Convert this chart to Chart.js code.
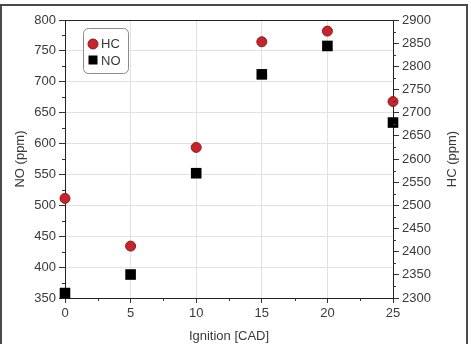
<!DOCTYPE html>
<html>
<head>
<meta charset="utf-8">
<script src="https://cdn.jsdelivr.net/npm/chart.js@4.4.1/dist/chart.umd.min.js"></script>
<style>
html,body{margin:0;padding:0;background:#fff;}
canvas{display:block;}
</style>
</head>
<body>
<canvas id="c" width="471" height="344"></canvas>
<script>
const ignition = [0, 5, 10, 15, 20, 25];
const hcValues = [2515, 2412, 2625, 2853, 2876, 2724];
const noValues = [358, 388, 552, 712, 758, 634];
const xTicks = [0, 5, 10, 15, 20, 25];
const noTicks = [350, 400, 450, 500, 550, 600, 650, 700, 750, 800];
const hcTicks = [2300, 2350, 2400, 2450, 2500, 2550, 2600, 2650, 2700, 2750, 2800, 2850, 2900];

const FONT = 'Liberation Sans, Arial, sans-serif';
const TXT = '#3a3a3a';
const HC_COLOR = '#c1272d';
const HC_BORDER = '#8e1b1e';

const extras = {
  id: 'extras',
  beforeDraw(chart) {
    const ctx = chart.ctx;
    ctx.save();
    ctx.fillStyle = '#fff';
    ctx.fillRect(0, 0, chart.width, chart.height);
    ctx.restore();
  },
  afterDraw(chart) {
    const ctx = chart.ctx;
    const a = chart.chartArea;
    const sx = chart.scales.x, sy = chart.scales.y, sy1 = chart.scales.y1;
    ctx.save();
    ctx.strokeStyle = '#222';
    ctx.lineWidth = 1;
    ctx.beginPath();
    ctx.moveTo(a.left, a.top + 0.5);
    ctx.lineTo(a.right, a.top + 0.5);
    ctx.stroke();
    ctx.strokeStyle = '#333';
    ctx.beginPath();
    for (let i = 0; i < xTicks.length - 1; i++) {
      const v = (xTicks[i] + xTicks[i + 1]) / 2;
      const px = Math.round(sx.getPixelForValue(v)) + 0.5;
      ctx.moveTo(px, a.bottom);
      ctx.lineTo(px, a.bottom + 3);
    }
    for (let i = 0; i < noTicks.length - 1; i++) {
      const v = (noTicks[i] + noTicks[i + 1]) / 2;
      const py = Math.round(sy.getPixelForValue(v)) + 0.5;
      ctx.moveTo(a.left - 3, py);
      ctx.lineTo(a.left, py);
    }
    for (let i = 0; i < hcTicks.length - 1; i++) {
      const v = (hcTicks[i] + hcTicks[i + 1]) / 2;
      const py = Math.round(sy1.getPixelForValue(v)) + 0.5;
      ctx.moveTo(a.right, py);
      ctx.lineTo(a.right + 3, py);
    }
    ctx.stroke();
    ctx.fillStyle = TXT;
    ctx.font = '13px ' + FONT;
    ctx.textAlign = 'center';
    ctx.textBaseline = 'middle';
    ctx.translate(452, (a.top + a.bottom) / 2);
    ctx.rotate(-Math.PI / 2);
    ctx.fillText('HC (ppm)', 0, 0);
    ctx.restore();

    ctx.save();
    const lx = 83, ly = 28, lw = 45, lh = 45, r = 5;
    ctx.beginPath();
    ctx.roundRect(lx + 0.5, ly + 0.5, lw, lh, r);
    ctx.fillStyle = '#fff';
    ctx.fill();
    ctx.strokeStyle = '#8a8a8a';
    ctx.lineWidth = 1;
    ctx.stroke();
    const ds = chart.data.datasets;
    ctx.beginPath();
    ctx.arc(93, 44, 5, 0, Math.PI * 2);
    ctx.fillStyle = HC_COLOR;
    ctx.fill();
    ctx.strokeStyle = HC_BORDER;
    ctx.stroke();
    ctx.fillStyle = '#000';
    ctx.fillRect(88.5, 55.5, 9, 9);
    ctx.fillStyle = TXT;
    ctx.font = '13px ' + FONT;
    ctx.textAlign = 'left';
    ctx.textBaseline = 'middle';
    ctx.fillText(ds[0].label, 101, 44);
    ctx.fillText(ds[1].label, 101, 61);
    ctx.restore();

    ctx.save();
    ctx.strokeStyle = '#4a4a4a';
    ctx.lineWidth = 2;
    ctx.strokeRect(1, 5, 466, 360);
    ctx.restore();
  }
};

const plain = v => String(v);

new Chart(document.getElementById('c'), {
  type: 'scatter',
  data: {
    datasets: [
      {
        label: 'HC',
        data: ignition.map((x, i) => ({ x: x, y: hcValues[i] })),
        yAxisID: 'y1',
        pointStyle: 'circle',
        pointRadius: 5,
        pointBackgroundColor: HC_COLOR,
        pointBorderColor: HC_BORDER,
        pointBorderWidth: 1,
        order: 1
      },
      {
        label: 'NO',
        data: ignition.map((x, i) => ({ x: x, y: noValues[i] })),
        yAxisID: 'y',
        pointStyle: 'rect',
        pointRadius: 7.5,
        pointBackgroundColor: '#000',
        pointBorderColor: '#000',
        pointBorderWidth: 0,
        order: 2
      }
    ]
  },
  options: {
    responsive: false,
    animation: false,
    clip: false,
    layout: { padding: { top: 20, left: 0, right: 0, bottom: 0 } },
    plugins: { legend: { display: false }, tooltip: { enabled: false } },
    scales: {
      x: {
        type: 'linear',
        min: 0, max: 25,
        afterBuildTicks: s => { s.ticks = xTicks.map(v => ({ value: v })); },
        afterFit: s => { s.height = 46; },
        grid: { color: '#e2e2e2', tickColor: '#333', tickLength: 5, drawTicks: true },
        border: { color: '#222', width: 1 },
        ticks: { color: TXT, font: { family: FONT, size: 13 }, padding: 3, maxRotation: 0, callback: plain },
        title: { display: true, text: 'Ignition [CAD]', color: TXT, font: { family: FONT, size: 13 }, padding: 0 }
      },
      y: {
        position: 'left',
        min: 350, max: 800,
        afterBuildTicks: s => { s.ticks = noTicks.map(v => ({ value: v })); },
        afterFit: s => { s.width = 65; },
        grid: { color: '#e2e2e2', tickColor: '#333', tickLength: 6 },
        border: { color: '#222', width: 1 },
        ticks: { color: TXT, font: { family: FONT, size: 13 }, padding: 3, callback: plain },
        title: { display: true, text: 'NO (ppm)', color: TXT, font: { family: FONT, size: 13 }, padding: 13 }
      },
      y1: {
        position: 'right',
        min: 2300, max: 2900,
        afterBuildTicks: s => { s.ticks = hcTicks.map(v => ({ value: v })); },
        afterFit: s => { s.width = 78; },
        grid: { drawOnChartArea: false, tickColor: '#333', tickLength: 6 },
        border: { color: '#222', width: 1 },
        ticks: { color: TXT, font: { family: FONT, size: 13 }, padding: 3, callback: plain },
        title: { display: false }
      }
    }
  },
  plugins: [extras]
});
</script>
</body>
</html>
